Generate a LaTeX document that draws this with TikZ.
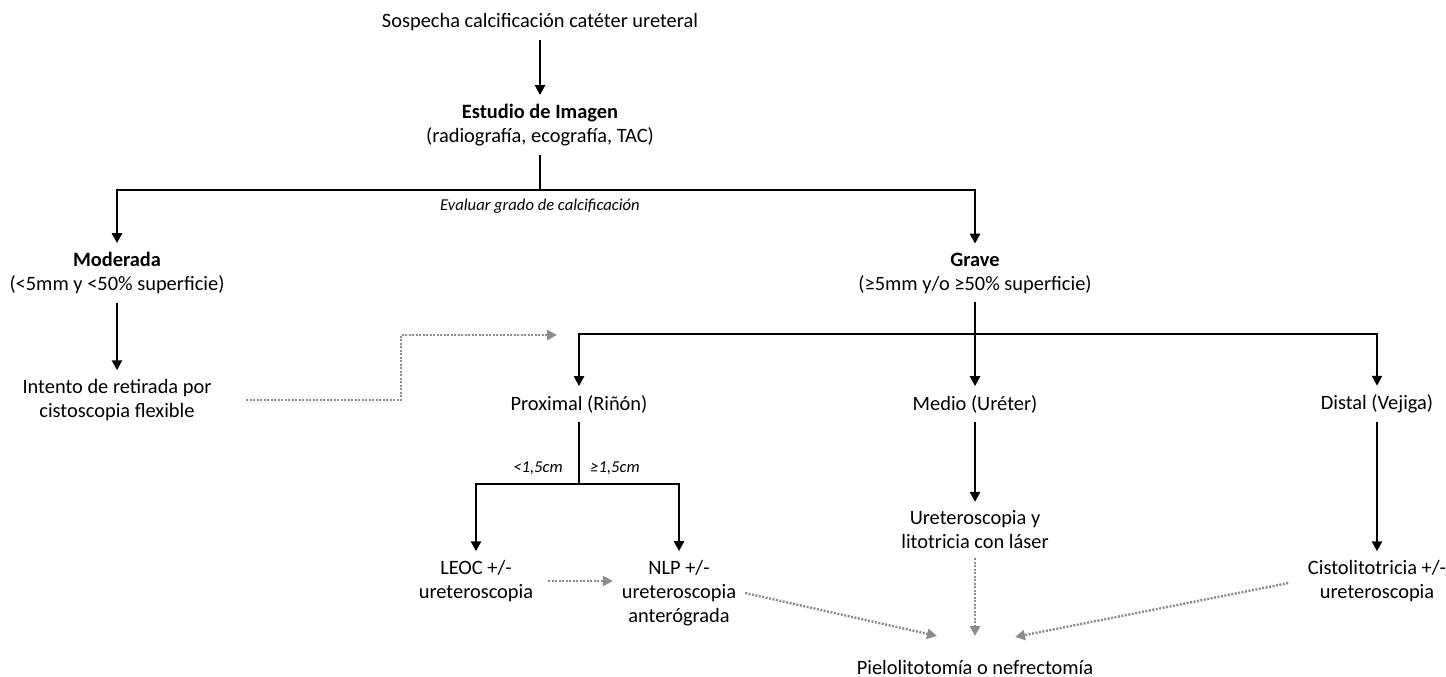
\documentclass[tikz,border=0pt]{standalone}
\usepackage{fontspec}
\setmainfont{Carlito}
\usetikzlibrary{arrows.meta}
\begin{document}
\begin{tikzpicture}[x=1pt,y=-1pt,
  box/.style={align=center,inner sep=0pt,outer sep=9pt,font=\fontsize{20.4}{24}\selectfont},
  lbl/.style={inner sep=0pt,font=\fontsize{16.6}{19}\selectfont\itshape},
  ln/.style={line width=2.5pt},
  arr/.style={line width=2.5pt,-{Triangle[width=10pt,length=10pt]}},
  dots/.style={line width=2.4pt,black!45,dash pattern=on 2pt off 1.5pt,-{Triangle[width=10pt,length=10pt]}}]
\useasboundingbox (0,0) rectangle (1446,677);
\node[box] (v0) at (540,22) {Sospecha calcificación catéter ureteral};
\node[box] (v1) at (540,125) {\textbf{Estudio de Imagen}\\(radiografía, ecografía, TAC)};
\node[lbl] (v2) at (540,206) {Evaluar grado de calcificación};
\node[box] (v3) at (117,273) {\textbf{Moderada}\\(<5mm y <50\% superficie)};
\node[box] (v4) at (975,273) {\textbf{Grave}\\(≥5mm y/o ≥50\% superficie)};
\node[box] (v5) at (117,400) {Intento de retirada por\\cistoscopia flexible};
\node[box] (v6) at (579,404) {Proximal (Riñón)};
\node[box] (v7) at (975,404) {Medio (Uréter)};
\node[box] (v8) at (1377,404) {Distal (Vejiga)};
\node[lbl] (v9) at (538,468) {<1,5cm};
\node[lbl] (v10) at (615,468) {≥1,5cm};
\node[box] (v11) at (476,581) {LEOC +/-\\ureteroscopia};
\node[box] (v12) at (679,593) {NLP +/-\\ureteroscopia\\anterógrada};
\node[box] (v13) at (975,530) {Ureteroscopia y\\litotricia con láser};
\node[box] (v14) at (1377,581) {Cistolitotricia +/-\\ureteroscopia};
\node[box] (v15) at (975,667) {Pielolitotomía o nefrectomía};
\coordinate (c0) at (540,190);
\coordinate (c1) at (975,334);
\coordinate (c2) at (579,484);
\coordinate (c3) at (401,400);
\coordinate (c4) at (557,335);
\coordinate (c5) at (937,636);
\coordinate (c6) at (975,636);
\coordinate (c7) at (1015,637);
\draw [arr] (v0) -- (v1);
\draw [ln] (v1) -- (c0);
\draw [arr] (c0) -| (v3);
\draw [arr] (c0) -| (v4);
\draw [arr] (v3) -- (v5);
\draw [arr] (v4) -- (v7);
\draw [arr] (c1) -| (v6);
\draw [arr] (c1) -| (v8);
\draw [ln] (v6) -- (c2);
\draw [arr] (c2) -| (v11);
\draw [arr] (c2) -| (v12);
\draw [arr] (v7) -- (v13);
\draw [arr] (v8) -- (v14);
\draw [dots,shorten <=26pt] (v5) -- (c3) |- (c4);
\draw [dots,shorten <=6pt] (v11.east) -- (v11.east -| v12.west);
\draw [dots] (v12.east) -- (c5);
\draw [dots] (v13) -- (c6);
\draw [dots,shorten <=11pt] (v14.west) -- (c7);
\end{tikzpicture}
\end{document}
